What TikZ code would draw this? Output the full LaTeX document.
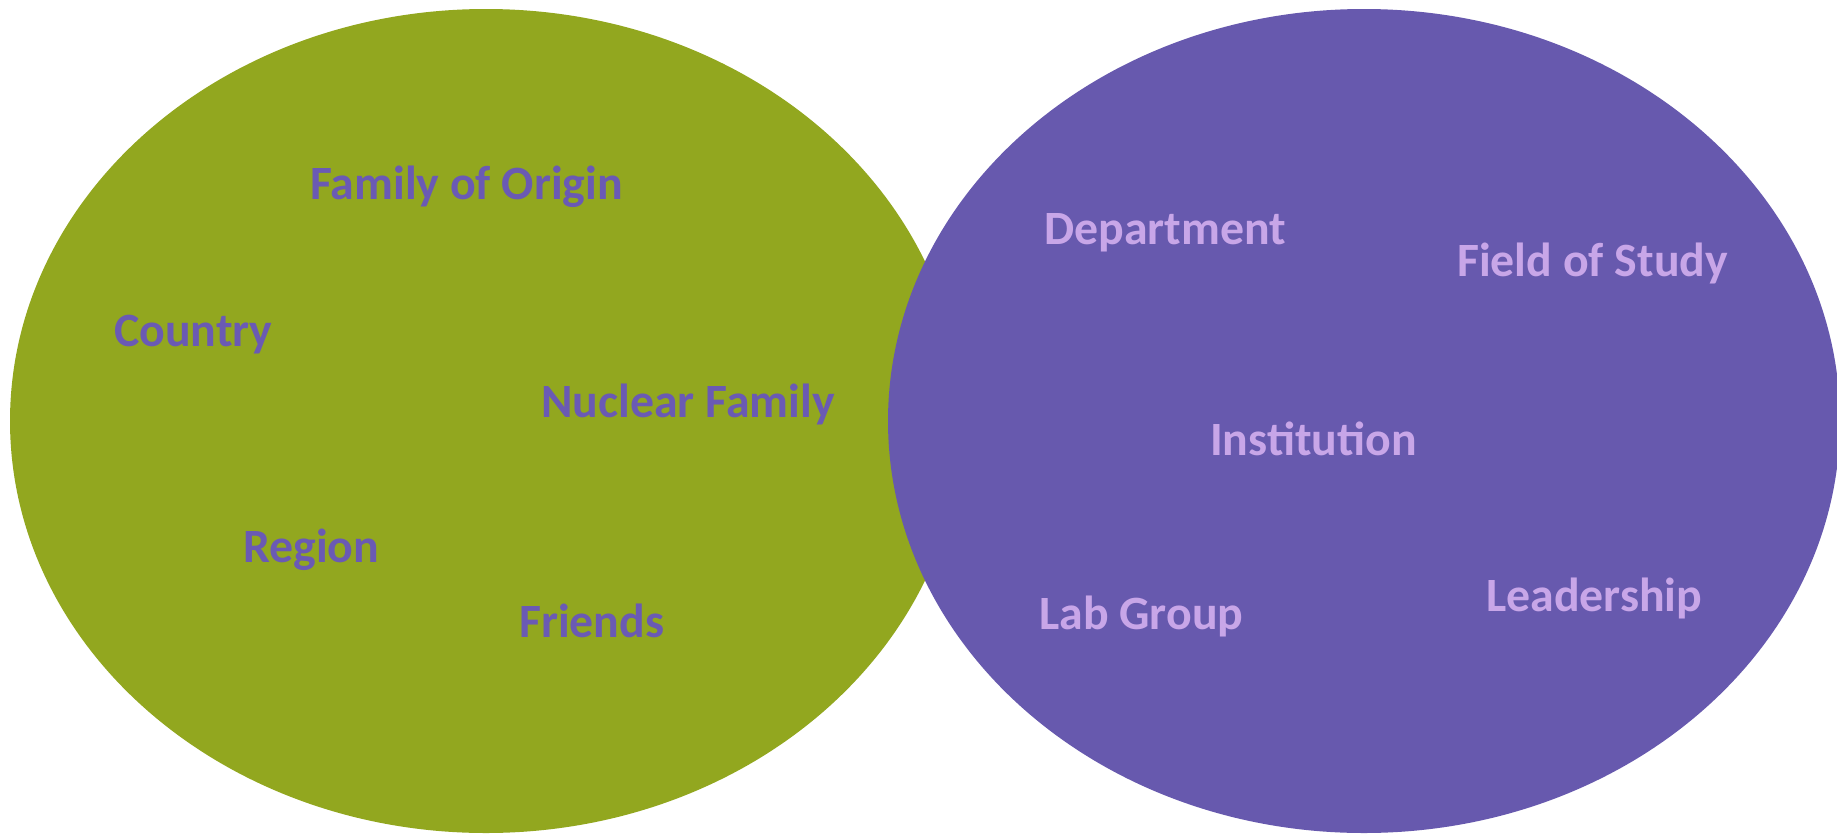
\documentclass[tikz,border=0pt]{standalone}
\usepackage{fontspec}
\setmainfont{Carlito}
\definecolor{olivegreen}{HTML}{92A71F}
\definecolor{setpurple}{HTML}{6759AE}
\definecolor{darklabel}{HTML}{6A5AB4}
\definecolor{lightlabel}{HTML}{C8A6E8}
\begin{document}
\begin{tikzpicture}[x=1pt,y=-1pt,
  lbl/.style={anchor=base west,inner sep=0pt,font=\fontsize{47.8}{50}\selectfont\bfseries},
  onGreen/.style={lbl,text=darklabel},
  onPurple/.style={lbl,text=lightlabel}]
\useasboundingbox (0,0) rectangle (1837,833);
\begin{scope}
  \clip (0,0) rectangle (1837,833);
  % the two overlapping sets
  \fill[olivegreen] (486,421) ellipse [x radius=476, y radius=412];
  \fill[setpurple] (1364,421) ellipse [x radius=476, y radius=412];
\end{scope}
% personal circle
\node[onGreen] (origin)  at (310,199) {Family of Origin};
\node[onGreen] (country) at (114,346) {Country};
\node[onGreen] (nuclear) at (541,417) {Nuclear Family};
\node[onGreen] (region)  at (243,562) {Region};
\node[onGreen] (friends) at (519,637) {Friends};
% academic circle
\node[onPurple] (dept)   at (1044,244) {Department};
\node[onPurple] (field)  at (1457,276) {Field of Study};
\node[onPurple] (inst)   at (1210,455) {Institution};
\node[onPurple] (lab)    at (1039,629) {Lab Group};
\node[onPurple] (lead)   at (1486,611) {Leadership};
\end{tikzpicture}
\end{document}
